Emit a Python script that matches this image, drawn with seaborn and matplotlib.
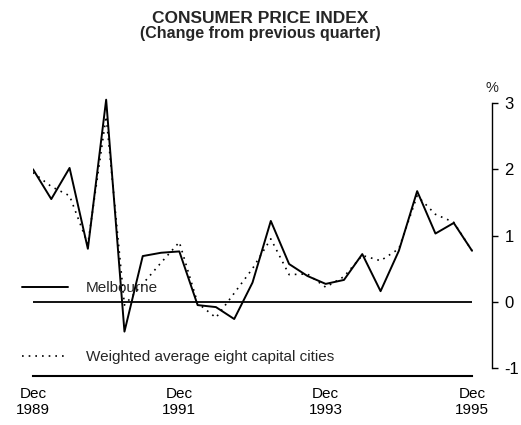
import matplotlib
matplotlib.use('Agg')
import matplotlib.pyplot as plt
import numpy as np
import pandas as pd
import seaborn as sns

### Data ###
# quarterly, Dec 1989 .. Dec 1995
quarters = list(range(25))
melbourne = [2.0, 1.55, 2.02, 0.8, 3.05, -0.45, 0.69, 0.74, 0.76, -0.05,
             -0.08, -0.26, 0.29, 1.22, 0.57, 0.39, 0.27, 0.33, 0.72, 0.16,
             0.77, 1.67, 1.03, 1.19, 0.77]
weighted = [1.95, 1.74, 1.6, 0.87, 2.8, -0.05, 0.27, 0.59, 0.9, -0.02,
            -0.24, 0.13, 0.5, 0.95, 0.41, 0.42, 0.22, 0.38, 0.7, 0.62,
            0.8, 1.6, 1.32, 1.2, 0.77]
x_ticks = [0, 8, 16, 24]
x_labels = ['Dec\n1989', 'Dec\n1991', 'Dec\n1993', 'Dec\n1995']
y_ticks = [-1, 0, 1, 2, 3]

df = pd.DataFrame({'quarter': quarters, 'Melbourne': melbourne,
                   'Weighted average eight capital cities': weighted})

sns.set_style('white')
plt.rcParams['font.family'] = ['Liberation Sans', 'DejaVu Sans']

fig = plt.figure(figsize=(5.21, 4.25), dpi=100)
ax = fig.add_axes([0.0633, 0.1153, 0.881, 0.6735])

sns.lineplot(data=df, x='quarter', y='Melbourne', color='black',
             linewidth=1.4, label='Melbourne', ax=ax)
sns.lineplot(data=df, x='quarter', y='Weighted average eight capital cities',
             color='black', linewidth=1.2, linestyle=(0, (1, 3)),
             label='Weighted average eight capital cities', ax=ax)

ax.hlines(0, quarters[0], quarters[-1], color='black', linewidth=1.3)

ax.set_xlim(0, 25.09)
ax.set_ylim(-1.12, 3.2)

ax.spines['left'].set_visible(False)
ax.spines['top'].set_visible(False)
ax.spines['right'].set_bounds(-1, 3)
ax.spines['bottom'].set_bounds(0, 24)
ax.spines['bottom'].set_linewidth(1.5)
ax.spines['right'].set_linewidth(1.0)
for s in ['right', 'bottom']:
    ax.spines[s].set_color('black')

ax.yaxis.tick_right()
ax.set_yticks(y_ticks)
ax.set_yticklabels([str(v) for v in y_ticks], fontsize=12)
ax.set_xticks(x_ticks)
ax.set_xticklabels(x_labels, fontsize=11, linespacing=1.15)
ax.tick_params(axis='y', direction='out', length=4, width=1, pad=5, colors='black')
ax.tick_params(axis='x', direction='in', length=4, width=1, pad=8, colors='black')
ax.set_xlabel('')
ax.set_ylabel('')

ax.text(1.0, 3.22, '%', transform=ax.get_yaxis_transform(), ha='center',
        va='center', fontsize=10.5)

fig.text(0.5, 0.957, 'CONSUMER PRICE INDEX', ha='center', va='center',
         fontsize=12.5, fontweight='bold')
fig.text(0.5, 0.921, '(Change from previous quarter)', ha='center', va='center',
         fontsize=11.5, fontweight='bold')

ax.legend(loc='upper left', bbox_to_anchor=(0.042, 0.338),
          bbox_transform=fig.transFigure, frameon=False, fontsize=11,
          handlelength=3.0, handletextpad=1.2, labelspacing=3.6,
          borderpad=0, borderaxespad=0)

fig.savefig('out.png', dpi=100)
